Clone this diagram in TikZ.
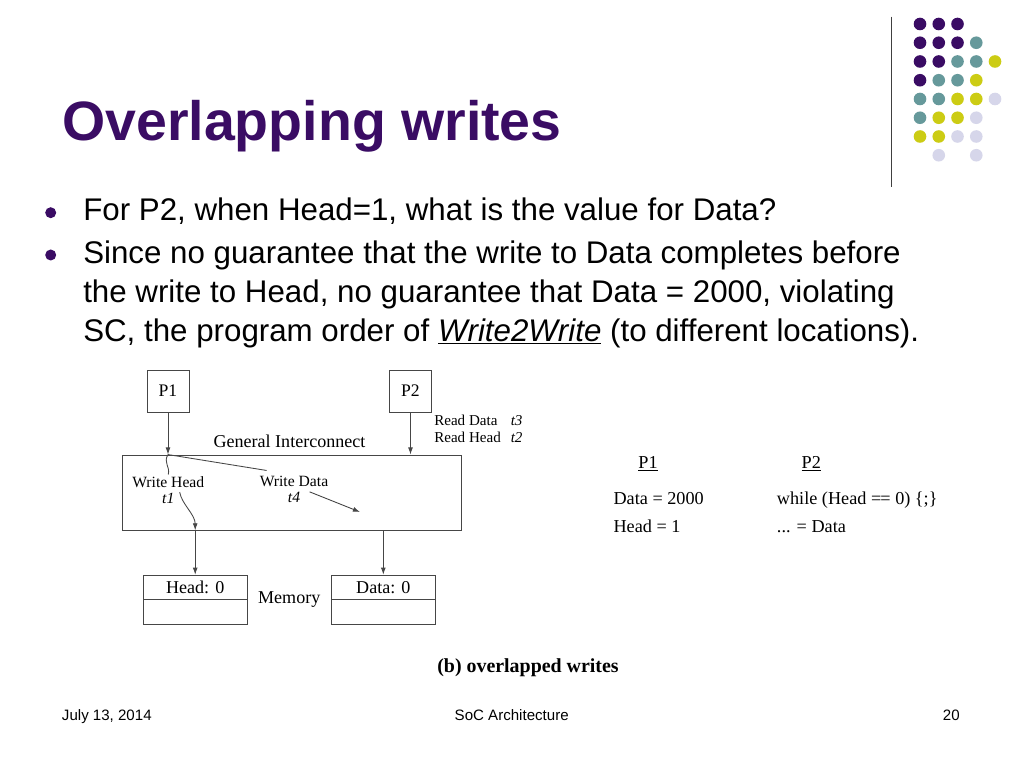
\documentclass[tikz,border=0pt]{standalone}
\usepackage{fontspec}
\setmainfont{Liberation Serif}
\setsansfont{Liberation Sans}
\usetikzlibrary{arrows.meta,positioning,calc}
\newdimen\pxu
\pxu=0.703125pt
\definecolor{slidepurple}{RGB}{58,12,100}
\definecolor{dotteal}{RGB}{102,153,155}
\definecolor{dotyellow}{RGB}{204,204,20}
\definecolor{dotlilac}{RGB}{214,214,234}
\definecolor{wire}{RGB}{70,70,70}

\tikzset{
  slidetitle/.style={anchor=base west, inner sep=0pt, text=slidepurple,
    font=\sffamily\bfseries\fontsize{39}{47}\selectfont},
  bullettext/.style={anchor=base west, inner sep=0pt, font=\sffamily\fontsize{22}{27}\selectfont},
  footer/.style={anchor=base, inner sep=0pt, font=\sffamily\fontsize{10.6}{12}\selectfont},
  cpu/.style={draw=wire, line width=0.6pt, minimum width=42*\pxu, minimum height=42*\pxu,
    inner sep=0pt, font=\fontsize{12.4}{15}\selectfont},
  bus/.style={draw=wire, line width=0.6pt, minimum width=339*\pxu, minimum height=75*\pxu, inner sep=0pt},
  membox/.style={draw=wire, line width=0.6pt, minimum width=103.5*\pxu, minimum height=49*\pxu, inner sep=0pt},
  memtext/.style={minimum height=24.5*\pxu, inner sep=0pt, font=\fontsize{12.7}{15}\selectfont},
  lbl/.style={inner sep=0pt, font=\fontsize{12.7}{15}\selectfont},
  oplbl/.style={align=center, inner sep=1pt, font=\fontsize{11}{11.25}\selectfont},
  rdlbl/.style={anchor=west, inner sep=0pt, font=\fontsize{10.6}{12.2}\selectfont},
  code/.style={anchor=base west, inner sep=0pt, font=\fontsize{12.8}{15}\selectfont},
  caption/.style={inner sep=0pt, font=\bfseries\fontsize{14}{17}\selectfont},
  line/.style={draw=wire, line width=0.6pt}
}

\begin{document}
\begin{tikzpicture}[x=0.703125pt, y=-0.703125pt, >={Latex[length=5pt,width=3.4pt]}]
  \fill[white] (0,0) rectangle (1024,768);
  \useasboundingbox (0,0) rectangle (1024,768);

  % Logo
  \draw[line width=1.1pt, black!75] (891.7,16.7) -- (891.7,186.7);
  \foreach \c/\r/\col in {0/0/slidepurple, 1/0/slidepurple, 2/0/slidepurple,
      0/1/slidepurple, 1/1/slidepurple, 2/1/slidepurple, 3/1/dotteal,
      0/2/slidepurple, 1/2/slidepurple, 2/2/dotteal, 3/2/dotteal, 4/2/dotyellow,
      0/3/slidepurple, 1/3/dotteal, 2/3/dotteal, 3/3/dotyellow,
      0/4/dotteal, 1/4/dotteal, 2/4/dotyellow, 3/4/dotyellow, 4/4/dotlilac,
      0/5/dotteal, 1/5/dotyellow, 2/5/dotyellow, 3/5/dotlilac,
      0/6/dotyellow, 1/6/dotyellow, 2/6/dotlilac, 3/6/dotlilac,
      1/7/dotlilac, 3/7/dotlilac}
    \fill[\col] (920+18.75*\c, 24+18.75*\r) circle[radius=6.3];

  % Title and bullets
  \node[slidetitle] (title) at (62,141) {Overlapping writes};
  \fill[slidepurple] (50.7,212.7) circle[radius=5.5];
  \node[bullettext] (q) at (83,221) {For P2, when Head=1, what is the value for Data?};
  \fill[slidepurple] (50.7,255) circle[radius=5.5];
  \node[bullettext] (ansa) at (83,264) {Since no guarantee that the write to Data completes before};
  \node[bullettext] (ansb) at (83,302.5) {the write to Head, no guarantee that Data = 2000, violating};
  \node[bullettext] (ansc) at (83,341) {SC, the program order of \underline{\textit{Write2Write}} (to different locations).};

  % Blocks
  \node[cpu] (p1) at (168,391) {P1};
  \node[cpu] (p2) at (410.5,391) {P2};
  \node[bus] (net) at (292.2,492.5) {};
  \node[lbl] (netname) at (289.5,441.5) {General Interconnect};
  \node[rdlbl] (reads) at (434,430.5) {\begin{tabular}{@{}l@{\hspace{7pt}}l@{}}Read Data & \textit{t3}\\ Read Head & \textit{t2}\end{tabular}};
  \node[oplbl] (whead) at (168.3,489.7) {Write Head\\\textit{t1}};
  \node[oplbl] (wdata) at (294,489.7) {Write Data\\\textit{t4}};
  \node[membox] (hmem) at (195.2,599.7) {};
  \node[membox] (dmem) at (383.3,599.7) {};
  \node[memtext, anchor=north] (hval) at (hmem.north) {Head: 0};
  \node[memtext, anchor=north] (dval) at (dmem.north) {Data: 0};
  \node[lbl] (memname) at ($(hmem.east)!0.5!(dmem.west)$) {Memory};
  \node[caption] (cap) at (528,668) {(b) overlapped writes};

  % Connections
  \coordinate (p1in) at (p1.south |- net.north);
  \coordinate (hin) at (hmem.north |- net.south);
  \coordinate (din) at (dmem.north |- net.south);
  \coordinate (lost) at (360,512);
  \draw[line] (hmem.west) -- (hmem.east);
  \draw[line] (dmem.west) -- (dmem.east);
  \draw[line, ->] (p1.south) -- (p1in);
  \draw[line, ->] (p2.south) -- (p2.south |- net.north);
  \draw[line] (p1in) .. controls +(-5,8) and +(2,-8) .. (whead.north);
  \draw[line] (p1in) -- ([xshift=6pt,yshift=3pt]wdata.north west);
  \draw[line, ->] ([xshift=8pt,yshift=9pt]whead.south) .. controls +(2,12) and +(0,-16) .. (hin);
  \draw[line, ->] ([xshift=11pt,yshift=9pt]wdata.south) -- (lost);
  \draw[line, ->] (hin) -- (hmem.north);
  \draw[line, ->] (din) -- (dmem.north);

  % Program text
  \node[code, anchor=base] (hp1) at (648,468.3) {\underline{P1}};
  \node[code, anchor=base] (hp2) at (811.3,468.3) {\underline{P2}};
  \node[code] (s1) at (613.3,504.3) {Data = 2000};
  \node[code] (s2) at (613.3,532.7) {Head = 1};
  \node[code] (s3) at (776.7,504.3) {while (Head =\kern-0.6pt= 0) \{;\}};
  \node[code] (s4) at (776.7,532.7) {... = Data};

  % Footer
  \node[footer, anchor=base west] (date) at (61.7,720) {July 13, 2014};
  \node[footer] (course) at (511.7,720) {SoC Architecture};
  \node[footer, anchor=base east] (page) at (960,720) {20};
\end{tikzpicture}
\end{document}
